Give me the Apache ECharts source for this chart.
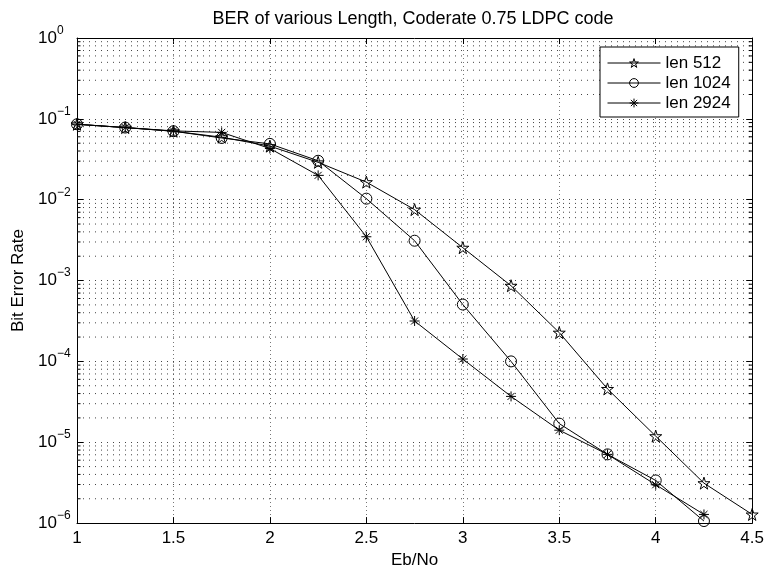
<!DOCTYPE html>
<html>
<head>
<meta charset="utf-8">
<script src="https://cdn.jsdelivr.net/npm/echarts@6/dist/echarts.min.js"></script>
<style>
  html, body { margin: 0; padding: 0; background: #fff; }
  #chart { width: 767px; height: 574px; }
</style>
</head>
<body>
<div id="chart"></div>
<script>
// ---- data ----
const titleText = 'BER of various Length, Coderate 0.75 LDPC code';
const xName = 'Eb/No';
const yName = 'Bit Error Rate';
const xTicks = [1, 1.5, 2, 2.5, 3, 3.5, 4, 4.5];
const yDecades = [1e-6, 1e-5, 1e-4, 1e-3, 1e-2, 1e-1, 1];
const ebno512  = [1, 1.25, 1.5, 1.75, 2, 2.25, 2.5, 2.75, 3, 3.25, 3.5, 3.75, 4, 4.25, 4.5];
const ber512   = [0.0857, 0.078, 0.0703, 0.0593, 0.046, 0.029, 0.0165, 0.00754, 0.00255, 0.000863, 0.000227, 4.57e-5, 1.19e-5, 3.12e-6, 1.28e-6];
const ebno1024 = [1, 1.25, 1.5, 1.75, 2, 2.25, 2.5, 2.75, 3, 3.25, 3.5, 3.75, 4, 4.25];
const ber1024  = [0.0857, 0.078, 0.0703, 0.058, 0.049, 0.0303, 0.0103, 0.00311, 0.000505, 0.0001, 1.70e-5, 7.08e-6, 3.37e-6, 1.06e-6];
const ebno2924 = [1, 1.25, 1.5, 1.75, 2, 2.25, 2.5, 2.75, 3, 3.25, 3.5, 3.75, 4, 4.25];
const ber2924  = [0.0857, 0.078, 0.071, 0.068, 0.043, 0.020, 0.00348, 0.000316, 0.000107, 3.69e-5, 1.41e-5, 7.08e-6, 2.98e-6, 1.28e-6];
const seriesNames = ['len 512', 'len 1024', 'len 2924'];

// minor log ticks (2..9 within each decade)
const minorTicks = [];
for (let i = 0; i < yDecades.length - 1; i++) {
  for (let m = 2; m <= 9; m++) minorTicks.push(yDecades[i] * m);
}

const FONT = '"Liberation Sans", Arial, Helvetica, sans-serif';
const FS = 17;
const starPath = 'path://M0,-100 L22.45,-30.9 L95.1,-30.9 L36.3,11.8 L58.8,80.9 L0,38.2 L-58.8,80.9 L-36.3,11.8 L-95.1,-30.9 L-22.45,-30.9 Z';
const asteriskPath = 'path://M0,-100 L0,100 M-100,0 L100,0 M-70.7,-70.7 L70.7,70.7 M-70.7,70.7 L70.7,-70.7';

const zip = (xs, ys) => xs.map((x, i) => [x, ys[i]]);
const X_MIN = xTicks[0], X_MAX = xTicks[xTicks.length - 1];
const hollow = { color: 'rgba(0,0,0,0)', borderColor: '#000', borderWidth: 1 };

function lineSeries(name, data, symbol, size) {
  return {
    name, type: 'line', data, symbol, symbolSize: size, clip: false,
    showAllSymbol: true,
    lineStyle: { color: '#000', width: 1 },
    itemStyle: hollow,
    emphasis: { disabled: true },
    animation: false, z: 5
  };
}

const chart = echarts.init(document.getElementById('chart'), null, { renderer: 'canvas' });
const yLabelFmt = v => {
  const e = Math.round(Math.log10(v));
  return '{b|10}{e|' + (e < 0 ? '\u2212' + (-e) : String(e)) + '}';
};
const yRich = {
  b: { fontSize: FS, fontFamily: FONT, color: '#000', lineHeight: FS, verticalAlign: 'middle' },
  e: { fontSize: 12, fontFamily: FONT, color: '#000', lineHeight: 12, verticalAlign: 'middle', padding: [0, 0, 15, 0] }
};

chart.setOption({
  backgroundColor: '#fff',
  animation: false,
  title: {
    text: titleText, left: 413, top: 10, textAlign: 'center', padding: 0,
    textStyle: { fontSize: 18, fontWeight: 'normal', color: '#000', fontFamily: FONT }
  },
  grid: { left: 77, right: 14, top: 38, bottom: 47, show: false },
  legend: {
    orient: 'vertical', left: 600, top: 47, selectedMode: false,
    itemWidth: 53, itemHeight: 11, itemGap: 0,
    padding: [6, 8, 4, 7],
    borderColor: '#000', borderWidth: 1, backgroundColor: '#fff',
    itemStyle: hollow,
    lineStyle: { color: '#000', width: 1 },
    textStyle: { fontSize: FS, color: '#000', fontFamily: FONT, lineHeight: 20 },
    data: seriesNames
  },
  xAxis: [
    {
      type: 'value', min: X_MIN, max: X_MAX, interval: 0.5, position: 'bottom',
      name: xName, nameLocation: 'middle', nameGap: 28,
      nameTextStyle: { fontSize: FS, color: '#000', fontFamily: FONT },
      axisLine: { show: true, onZero: false, lineStyle: { color: '#000', width: 1 } },
      axisTick: { show: true, inside: true, length: 6, lineStyle: { color: '#000' } },
      axisLabel: { fontSize: FS, color: '#000', fontFamily: FONT, margin: 7, formatter: v => String(v) },
      splitLine: { show: true, lineStyle: { color: '#777', type: [1, 3], width: 1 } }
    },
    {
      type: 'value', min: X_MIN, max: X_MAX, interval: 0.5, position: 'top',
      axisLine: { show: true, onZero: false, lineStyle: { color: '#000', width: 1 } },
      axisTick: { show: true, inside: true, length: 6, lineStyle: { color: '#000' } },
      axisLabel: { show: false }, splitLine: { show: false }
    }
  ],
  yAxis: [
    {
      type: 'log', logBase: 10, min: 1e-6, max: 1, interval: 1, position: 'left',
      name: yName, nameLocation: 'middle', nameGap: 48, nameRotate: 90,
      nameTextStyle: { fontSize: FS, color: '#000', fontFamily: FONT },
      axisLine: { show: true, onZero: false, lineStyle: { color: '#000', width: 1 } },
      axisTick: { show: true, inside: true, length: 6, lineStyle: { color: '#000' } },
      axisLabel: { margin: 39, align: 'left', formatter: yLabelFmt, rich: yRich },
      splitLine: { show: true, lineStyle: { color: '#444', type: [1, 5], width: 1 } }
    },
    {
      type: 'log', logBase: 10, min: 1e-6, max: 1, interval: 1, position: 'right',
      axisLine: { show: true, onZero: false, lineStyle: { color: '#000', width: 1 } },
      axisTick: { show: true, inside: true, length: 6, lineStyle: { color: '#000' } },
      axisLabel: { show: false }, splitLine: { show: false }
    }
  ],
  series: [
    {
      name: 'minor', type: 'custom', silent: true, z: 1, clip: false,
      data: minorTicks.map(v => [v]),
      encode: { y: 0 },
      renderItem: (params, api) => {
        const v = api.value(0);
        const p0 = api.coord([X_MIN, v]);
        const p1 = api.coord([X_MAX, v]);
        return {
          type: 'group',
          children: [
            { type: 'line', shape: { x1: p0[0], y1: p0[1], x2: p1[0], y2: p1[1] },
              style: { stroke: '#444', lineWidth: 1, lineDash: [1, 5] } },
            { type: 'line', shape: { x1: p0[0], y1: p0[1], x2: p0[0] + 3.5, y2: p0[1] },
              style: { stroke: '#000', lineWidth: 1 } },
            { type: 'line', shape: { x1: p1[0], y1: p1[1], x2: p1[0] - 3.5, y2: p1[1] },
              style: { stroke: '#000', lineWidth: 1 } }
          ]
        };
      }
    },
    lineSeries('len 512', zip(ebno512, ber512), starPath, 12),
    lineSeries('len 1024', zip(ebno1024, ber1024), 'circle', 11),
    lineSeries('len 2924', zip(ebno2924, ber2924), asteriskPath, 10)
  ]
});
</script>
</body>
</html>
